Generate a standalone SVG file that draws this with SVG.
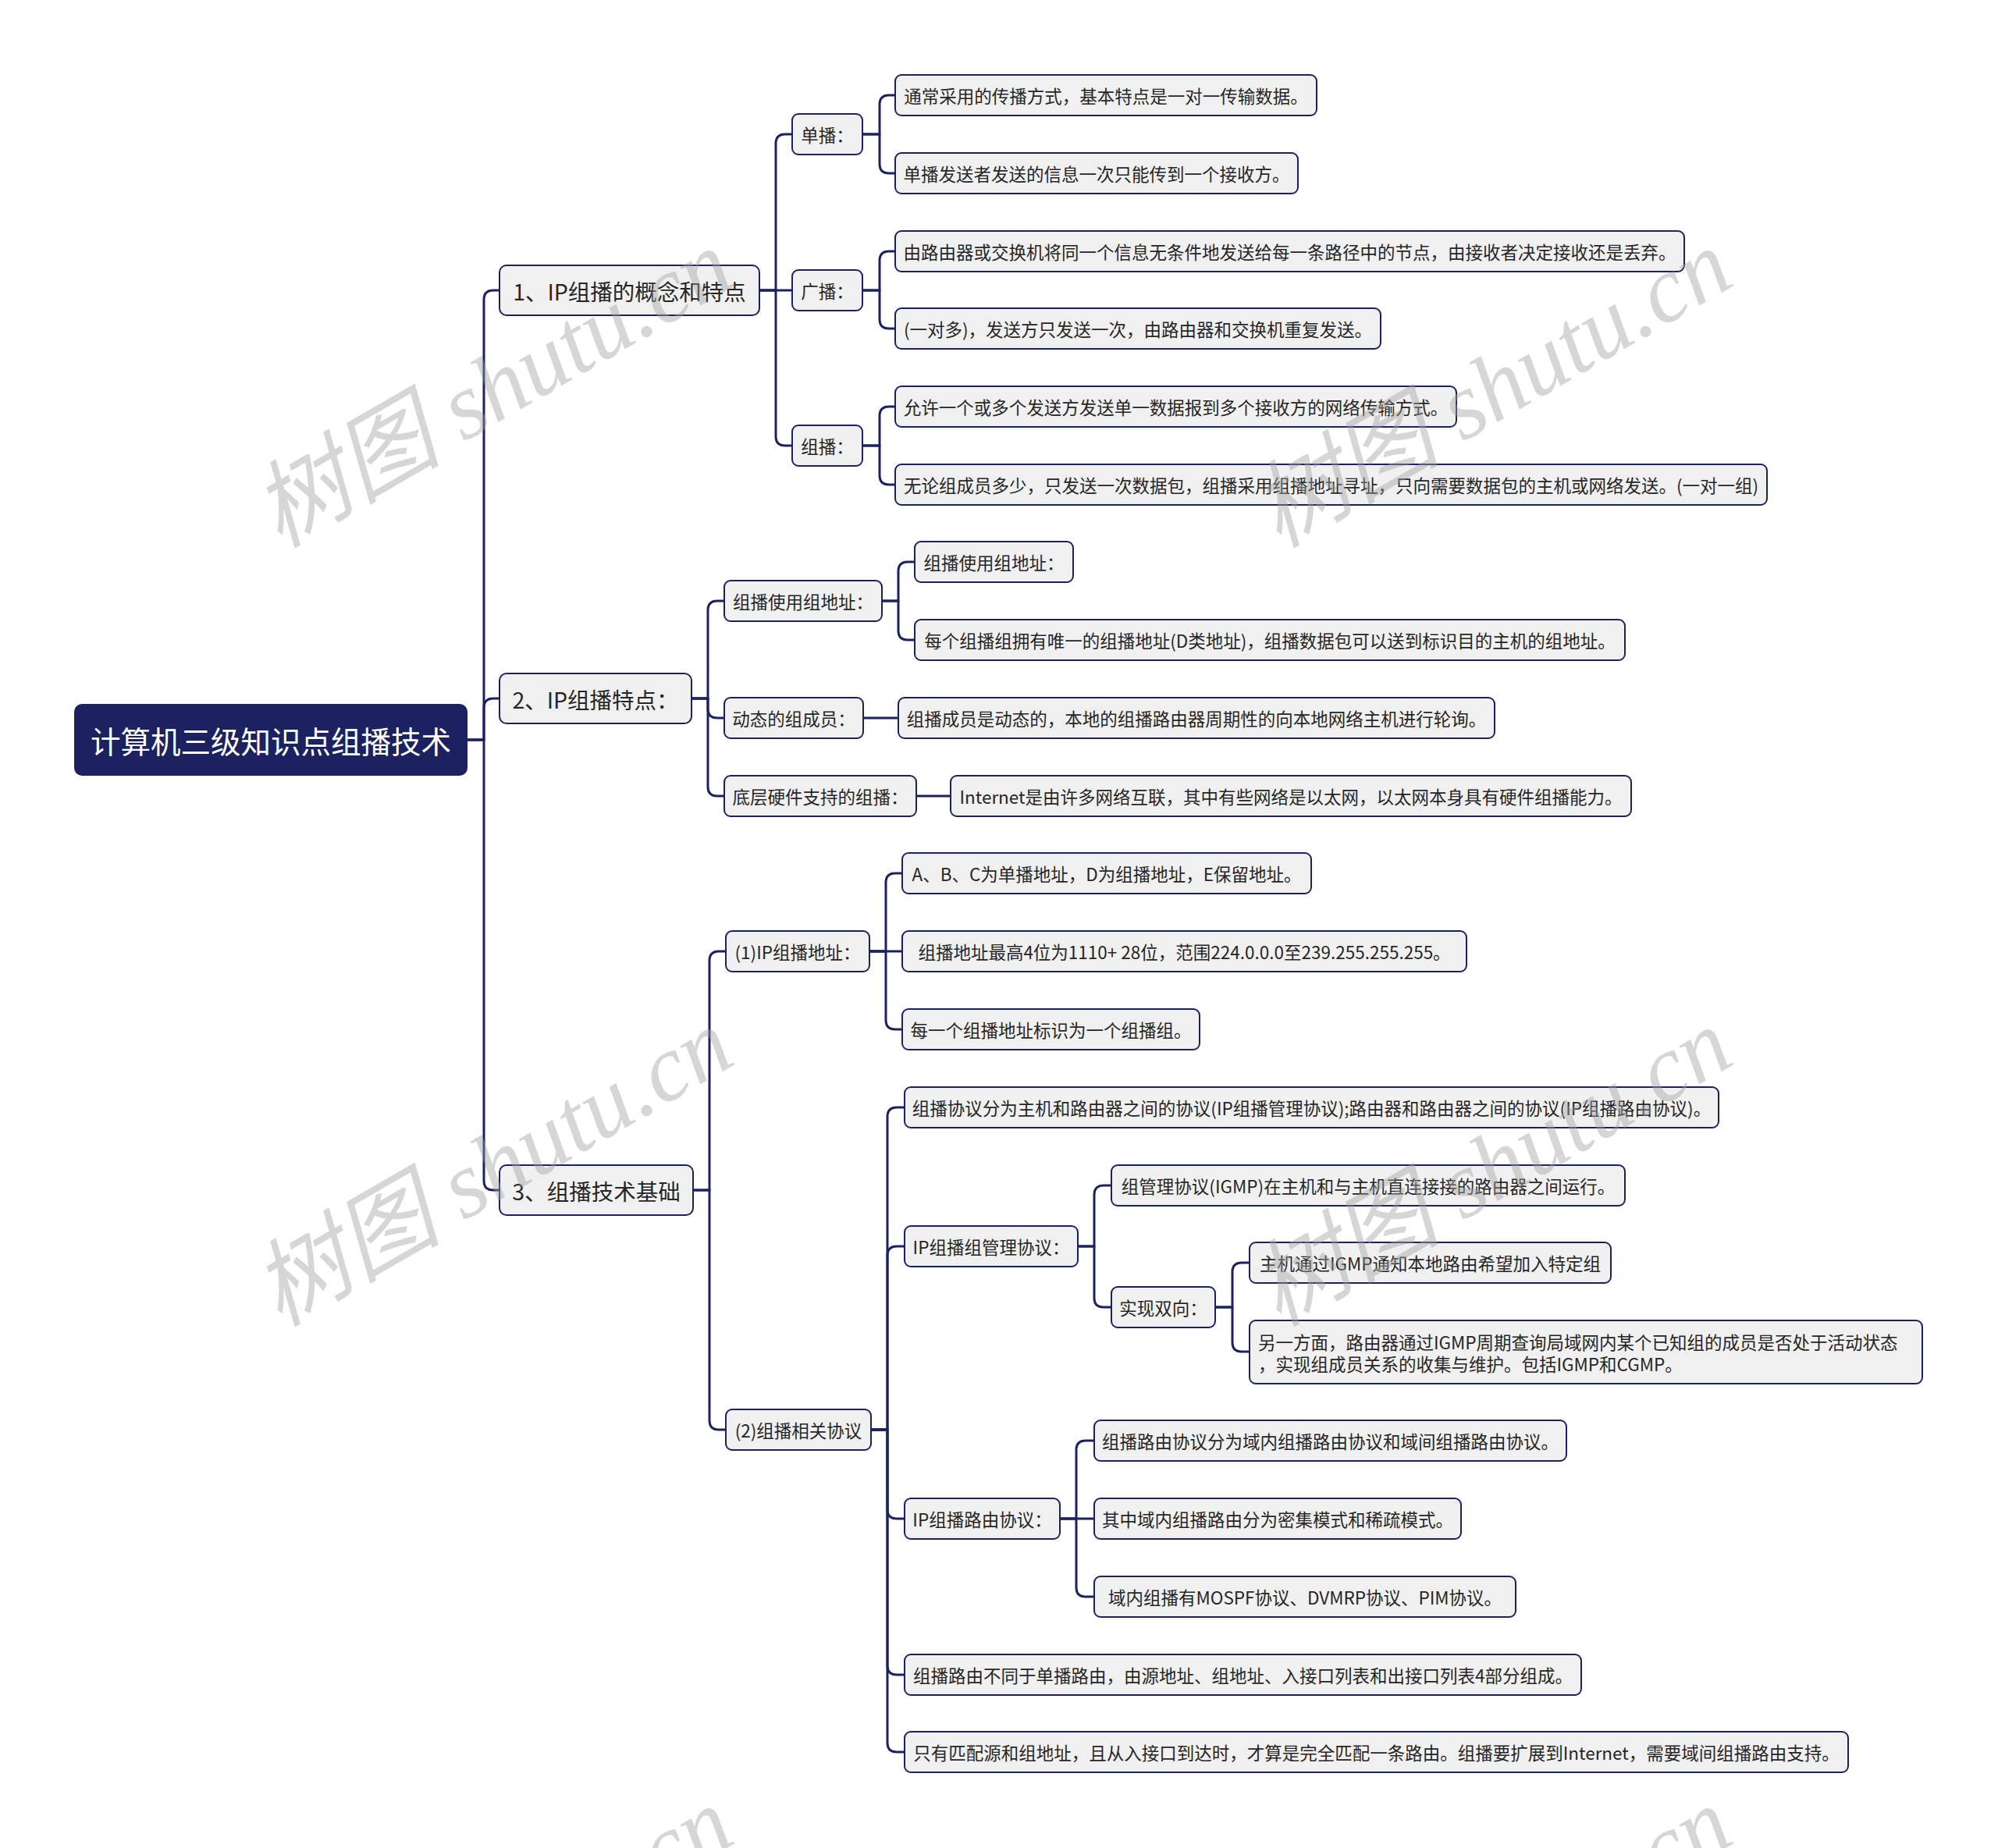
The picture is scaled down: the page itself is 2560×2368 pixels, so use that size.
<svg xmlns="http://www.w3.org/2000/svg" width="2560" height="2368" viewBox="0 0 2560 2368">
<style>
.n rect{fill:#f0f0f0;stroke:#1c2260;stroke-width:2}
.n text{font-family:"Noto Sans CJK SC","Noto Sans",sans-serif;font-size:22.5px;fill:#262626;dominant-baseline:central;text-anchor:middle}
.n.l1 text{font-size:28.5px}
#root rect{fill:#1c2260;stroke:#1c2260}
#root text{font-size:38.5px;fill:#ffffff}
.c path{fill:none;stroke:#1c2260;stroke-width:3;stroke-linejoin:round}
.wm text{font-family:"Liberation Serif","Noto Sans CJK SC",serif;font-style:italic;font-size:121px;fill:#a0a0a0;opacity:0.42}
</style>
<rect width="2560" height="2368" fill="#ffffff"/>
<g class="c" id="connectors">
<path d="M598 948H620V384Q620 372 632 372H640"/>
<path d="M598 948H620V907Q620 895 632 895H640"/>
<path d="M598 948H620V1513Q620 1525 632 1525H640"/>
<path d="M973 372H994V184Q994 172 1006 172H1015"/>
<path d="M973 372H1015"/>
<path d="M973 372H994V559Q994 571 1006 571H1015"/>
<path d="M1105 172H1127V134Q1127 122 1139 122H1147"/>
<path d="M1105 172H1127V210Q1127 222 1139 222H1147"/>
<path d="M1105 372H1127V334Q1127 322 1139 322H1147"/>
<path d="M1105 372H1127V409Q1127 421 1139 421H1147"/>
<path d="M1105 571H1127V533Q1127 521 1139 521H1147"/>
<path d="M1105 571H1127V609Q1127 621 1139 621H1147"/>
<path d="M886 895H907V782Q907 770 919 770H928"/>
<path d="M886 895H907V908Q907 920 919 920H928"/>
<path d="M886 895H907V1008Q907 1020 919 1020H928"/>
<path d="M1130 770H1151V732Q1151 720 1163 720H1172"/>
<path d="M1130 770H1151V808Q1151 820 1163 820H1172"/>
<path d="M1106 920H1151"/>
<path d="M1174 1020H1218"/>
<path d="M888 1525H909V1231Q909 1219 921 1219H930"/>
<path d="M888 1525H909V1820Q909 1832 921 1832H930"/>
<path d="M1114 1219H1135V1131Q1135 1119 1147 1119H1156"/>
<path d="M1114 1219H1156"/>
<path d="M1114 1219H1135V1307Q1135 1319 1147 1319H1156"/>
<path d="M1116 1832H1137V1431Q1137 1419 1149 1419H1159"/>
<path d="M1116 1832H1137V1609Q1137 1597 1149 1597H1159"/>
<path d="M1116 1832H1137V1934Q1137 1946 1149 1946H1159"/>
<path d="M1116 1832H1137V2134Q1137 2146 1149 2146H1159"/>
<path d="M1116 1832H1137V2233Q1137 2245 1149 2245H1159"/>
<path d="M1381 1597H1402V1531Q1402 1519 1414 1519H1424"/>
<path d="M1381 1597H1402V1663Q1402 1675 1414 1675H1424"/>
<path d="M1557 1675H1579V1630Q1579 1618 1591 1618H1601"/>
<path d="M1557 1675H1579V1720Q1579 1732 1591 1732H1601"/>
<path d="M1358 1946H1379V1858Q1379 1846 1391 1846H1402"/>
<path d="M1358 1946H1402"/>
<path d="M1358 1946H1379V2034Q1379 2046 1391 2046H1402"/>
</g>
<g class="n" id="root"><rect x="96" y="903" width="502" height="90" rx="9"/><text x="347" y="948">计算机三级知识点组播技术</text></g>
<g class="n l1" id="n1"><rect x="640" y="340" width="333" height="64" rx="9"/><text x="806.5" y="372">1、IP组播的概念和特点</text></g>
<g class="n l1" id="n2"><rect x="640" y="863" width="246" height="64" rx="9"/><text x="763" y="895">2、IP组播特点：</text></g>
<g class="n l1" id="n3"><rect x="640" y="1493" width="248" height="64" rx="9"/><text x="764" y="1525">3、组播技术基础</text></g>
<g class="n" id="n1a"><rect x="1015" y="146" width="90" height="52" rx="8"/><text x="1060" y="172">单播：</text></g>
<g class="n" id="n1b"><rect x="1015" y="346" width="90" height="52" rx="8"/><text x="1060" y="372">广播：</text></g>
<g class="n" id="n1c"><rect x="1015" y="545" width="90" height="52" rx="8"/><text x="1060" y="571">组播：</text></g>
<g class="n" id="l1"><rect x="1147" y="96" width="540" height="52" rx="8"/><text x="1417" y="122">通常采用的传播方式，基本特点是一对一传输数据。</text></g>
<g class="n" id="l2"><rect x="1147" y="196" width="516" height="52" rx="8"/><text x="1405" y="222">单播发送者发送的信息一次只能传到一个接收方。</text></g>
<g class="n" id="l3"><rect x="1147" y="296" width="1011" height="52" rx="8"/><text x="1652.5" y="322">由路由器或交换机将同一个信息无条件地发送给每一条路径中的节点，由接收者决定接收还是丢弃。</text></g>
<g class="n" id="l4"><rect x="1147" y="395" width="622" height="52" rx="8"/><text x="1458" y="421">(一对多)，发送方只发送一次，由路由器和交换机重复发送。</text></g>
<g class="n" id="l5"><rect x="1147" y="495" width="719" height="52" rx="8"/><text x="1506.5" y="521">允许一个或多个发送方发送单一数据报到多个接收方的网络传输方式。</text></g>
<g class="n" id="l6"><rect x="1147" y="595" width="1117" height="52" rx="8"/><text x="1705.5" y="621">无论组成员多少，只发送一次数据包，组播采用组播地址寻址，只向需要数据包的主机或网络发送。(一对一组)</text></g>
<g class="n" id="n2a"><rect x="928" y="744" width="202" height="52" rx="8"/><text x="1029" y="770">组播使用组地址：</text></g>
<g class="n" id="n2b"><rect x="928" y="894" width="178" height="52" rx="8"/><text x="1017" y="920">动态的组成员：</text></g>
<g class="n" id="n2c"><rect x="928" y="994" width="246" height="52" rx="8"/><text x="1051" y="1020">底层硬件支持的组播：</text></g>
<g class="n" id="l7"><rect x="1172" y="694" width="203" height="52" rx="8"/><text x="1273.5" y="720">组播使用组地址：</text></g>
<g class="n" id="l8"><rect x="1172" y="794" width="910" height="52" rx="8"/><text x="1627" y="820">每个组播组拥有唯一的组播地址(D类地址)，组播数据包可以送到标识目的主机的组地址。</text></g>
<g class="n" id="l9"><rect x="1151" y="894" width="764" height="52" rx="8"/><text x="1533" y="920">组播成员是动态的，本地的组播路由器周期性的向本地网络主机进行轮询。</text></g>
<g class="n" id="l10"><rect x="1218" y="994" width="872" height="52" rx="8"/><text x="1654" y="1020">Internet是由许多网络互联，其中有些网络是以太网，以太网本身具有硬件组播能力。</text></g>
<g class="n" id="n3a"><rect x="930" y="1193" width="184" height="52" rx="8"/><text x="1022" y="1219">(1)IP组播地址：</text></g>
<g class="n" id="n3b"><rect x="930" y="1806" width="186" height="52" rx="8"/><text x="1023" y="1832">(2)组播相关协议</text></g>
<g class="n" id="l11"><rect x="1156" y="1093" width="524" height="52" rx="8"/><text x="1418" y="1119">A、B、C为单播地址，D为组播地址，E保留地址。</text></g>
<g class="n" id="l12"><rect x="1156" y="1193" width="723" height="52" rx="8"/><text x="1517.5" y="1219">组播地址最高4位为1110+ 28位，范围224.0.0.0至239.255.255.255。</text></g>
<g class="n" id="l13"><rect x="1156" y="1293" width="381" height="52" rx="8"/><text x="1346.5" y="1319">每一个组播地址标识为一个组播组。</text></g>
<g class="n" id="l14"><rect x="1159" y="1393" width="1043" height="52" rx="8"/><text x="1680.5" y="1419">组播协议分为主机和路由器之间的协议(IP组播管理协议);路由器和路由器之间的协议(IP组播路由协议)。</text></g>
<g class="n" id="n3c"><rect x="1159" y="1571" width="222" height="52" rx="8"/><text x="1270" y="1597">IP组播组管理协议：</text></g>
<g class="n" id="l15"><rect x="1424" y="1493" width="658" height="52" rx="8"/><text x="1753" y="1519">组管理协议(IGMP)在主机和与主机直连接接的路由器之间运行。</text></g>
<g class="n" id="n3e"><rect x="1424" y="1649" width="133" height="52" rx="8"/><text x="1490.5" y="1675">实现双向：</text></g>
<g class="n" id="l16"><rect x="1601" y="1592" width="463" height="52" rx="8"/><text x="1832.5" y="1618">主机通过IGMP通知本地路由希望加入特定组</text></g>
<g class="n" id="l17"><rect x="1601" y="1692" width="862" height="81" rx="8"/><text x="1612" y="1719" style="text-anchor:start">另一方面，路由器通过IGMP周期查询局域网内某个已知组的成员是否处于活动状态</text><text x="1612" y="1747" style="text-anchor:start">，实现组成员关系的收集与维护。包括IGMP和CGMP。</text></g>
<g class="n" id="n3d"><rect x="1159" y="1920" width="199" height="52" rx="8"/><text x="1258.5" y="1946">IP组播路由协议：</text></g>
<g class="n" id="l18"><rect x="1402" y="1820" width="605" height="52" rx="8"/><text x="1704.5" y="1846">组播路由协议分为域内组播路由协议和域间组播路由协议。</text></g>
<g class="n" id="l19"><rect x="1402" y="1920" width="470" height="52" rx="8"/><text x="1637" y="1946">其中域内组播路由分为密集模式和稀疏模式。</text></g>
<g class="n" id="l20"><rect x="1402" y="2020" width="540" height="52" rx="8"/><text x="1672" y="2046">域内组播有MOSPF协议、DVMRP协议、PIM协议。</text></g>
<g class="n" id="l21"><rect x="1159" y="2120" width="867" height="52" rx="8"/><text x="1592.5" y="2146">组播路由不同于单播路由，由源地址、组地址、入接口列表和出接口列表4部分组成。</text></g>
<g class="n" id="l22"><rect x="1159" y="2219" width="1209" height="52" rx="8"/><text x="1763.5" y="2245">只有匹配源和组地址，且从入接口到达时，才算是完全匹配一条路由。组播要扩展到Internet，需要域间组播路由支持。</text></g>
<g class="wm" id="watermarks">
<text x="358" y="703" transform="rotate(-30 358 703)">树图 shutu.cn</text>
<text x="1638" y="703" transform="rotate(-30 1638 703)">树图 shutu.cn</text>
<text x="358" y="1701" transform="rotate(-30 358 1701)">树图 shutu.cn</text>
<text x="1638" y="1701" transform="rotate(-30 1638 1701)">树图 shutu.cn</text>
<text x="358" y="2699" transform="rotate(-30 358 2699)">树图 shutu.cn</text>
<text x="1638" y="2699" transform="rotate(-30 1638 2699)">树图 shutu.cn</text>
</g>
</svg>
